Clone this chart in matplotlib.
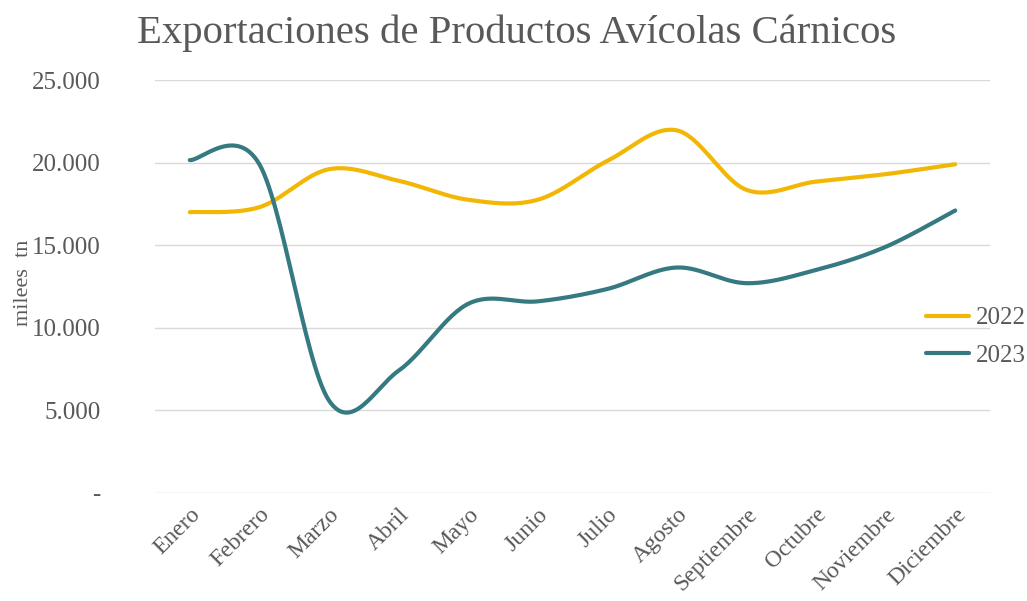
import numpy as np
import matplotlib.pyplot as plt
from matplotlib.ticker import FuncFormatter

meses = ['Enero', 'Febrero', 'Marzo', 'Abril', 'Mayo', 'Junio', 'Julio',
         'Agosto', 'Septiembre', 'Octubre', 'Noviembre', 'Diciembre']
v2022 = [17000, 17300, 19600, 18900, 17750, 17750, 20100, 21950, 18350, 18850, 19300, 19900]
v2023 = [20150, 19900, 5600, 7400, 11450, 11600, 12350, 13650, 12700, 13500, 14900, 17100]

plt.rcParams['font.family'] = ['Liberation Serif', 'DejaVu Serif']


def suavizar(y, n=30):
    # curva tipo Excel (Catmull-Rom)
    y = np.asarray(y, float)
    x = np.arange(len(y), dtype=float)
    px = np.concatenate([[x[0]], x, [x[-1]]])
    py = np.concatenate([[y[0]], y, [y[-1]]])
    xs, ys = [], []
    for i in range(1, len(px) - 2):
        t = np.linspace(0, 1, n, endpoint=False)
        p0, p1, p2, p3 = py[i - 1], py[i], py[i + 1], py[i + 2]
        q0, q1, q2, q3 = px[i - 1], px[i], px[i + 1], px[i + 2]
        c1y, c2y = p1 + (p2 - p0) / 6, p2 - (p3 - p1) / 6
        c1x, c2x = q1 + (q2 - q0) / 6, q2 - (q3 - q1) / 6
        b = [(1 - t) ** 3, 3 * (1 - t) ** 2 * t, 3 * (1 - t) * t ** 2, t ** 3]
        xs.append(b[0] * q1 + b[1] * c1x + b[2] * c2x + b[3] * q2)
        ys.append(b[0] * p1 + b[1] * c1y + b[2] * c2y + b[3] * p2)
    xs.append([x[-1]])
    ys.append([y[-1]])
    return np.concatenate(xs), np.concatenate(ys)


fig = plt.figure(figsize=(10.27, 6.01), dpi=100)
ax = fig.add_axes([155 / 1027, 1 - 493 / 601, (990 - 155) / 1027, (493 - 80) / 601])

x, y = suavizar(v2022)
ax.plot(x, y, color='#F2B705', lw=3, solid_capstyle='round', label='2022')
x, y = suavizar(v2023)
ax.plot(x, y, color='#357A81', lw=3, solid_capstyle='round', label='2023')

ax.set_xlim(-0.5, 11.5)
ax.set_ylim(0, 25000)
ax.set_yticks(np.arange(0, 25001, 5000))
ax.yaxis.set_major_formatter(FuncFormatter(lambda v, p: '-' if v == 0 else f'{int(v):,}'.replace(',', '.')))
ax.set_xticks(range(12))
ax.set_xticklabels(meses, rotation=45, ha='right', rotation_mode='anchor')
ax.grid(axis='y', color='#D9D9D9', lw=1)
ax.set_axisbelow(True)
for s in ax.spines.values():
    s.set_visible(False)
ax.tick_params(axis='both', length=0, colors='#595959')
ax.tick_params(axis='y', labelsize=18, pad=39)
ax.tick_params(axis='x', labelsize=17, pad=8)

ax.set_ylabel('milees  tn', fontsize=16, color='#595959')
ax.yaxis.set_label_coords(-122 / 835, 0.51)

fig.text(0.503, 0.945, 'Exportaciones de Productos Avícolas Cárnicos', ha='center', va='center',
         fontsize=29.3, color='#595959')

ax.legend(loc='center left', bbox_to_anchor=(926 / 1027, 1 - 337 / 601), bbox_transform=fig.transFigure,
          frameon=False, fontsize=18, handlelength=1.7, handletextpad=0.3, labelspacing=0.6,
          borderpad=0, borderaxespad=0, labelcolor='#595959')

fig.savefig('out.png', dpi=100)
